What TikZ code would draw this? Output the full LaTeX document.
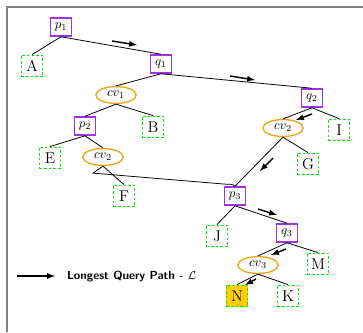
\documentclass[tikz,border=0pt]{standalone}
\usepackage{tikz}
\usetikzlibrary{shapes.geometric}

\definecolor{boxpurple}{RGB}{160,50,230}
\definecolor{leafgreen}{RGB}{0,235,0}
\definecolor{cvorange}{RGB}{245,160,20}
\definecolor{hitgold}{RGB}{255,205,0}

\tikzset{
    pnode/.style={draw=boxpurple, line width=1pt, inner sep=3.5pt, minimum height=14pt},
    leaf/.style={draw=leafgreen, line width=1pt, dash pattern=on 2pt off 1.6pt,
        minimum size=16.5pt, inner sep=1pt, font=\large},
    cvnode/.style={draw=cvorange, ellipse, line width=1pt, minimum width=31pt,
        minimum height=13pt, inner sep=1pt},
    qpath/.style={-latex, line width=1.1pt},
    edge/.style={line width=0.6pt}
}

\begin{document}
\begin{tikzpicture}[x=0.027cm, y=-0.027cm]
                \useasboundingbox (0,0) rectangle (363,332);
                \draw[gray, line width=1.2pt] (7,332) -- (7,7) -- (363,7);

                % query nodes
                \node[pnode] (p1) at (61,27) {$p_1$};
                \node[pnode] (q1) at (161,64) {$q_1$};
                \node[pnode] (p2) at (85,126) {$p_2$};
                \node[pnode] (q2) at (312,98) {$q_2$};
                \node[pnode] (p3) at (235,196) {$p_3$};
                \node[pnode] (q3) at (287,233) {$q_3$};

                \node[cvnode] (cv1) at (116,95) {$cv_1$};
                \node[cvnode] (cv2l) at (103,157) {$cv_2$};
                \node[cvnode] (cv2r) at (283,128) {$cv_2$};
                \node[cvnode] (cv3) at (258,265) {$cv_3$};

                % leaves
                \node[leaf] (A) at (32,66) {A};
                \node[leaf] (B) at (153,127) {B};
                \node[leaf] (E) at (50,158) {E};
                \node[leaf] (F) at (124,196) {F};
                \node[leaf] (I) at (339,130) {I};
                \node[leaf] (G) at (308,164) {G};
                \node[leaf] (J) at (217,236) {J};
                \node[leaf] (M) at (318,264) {M};
                \node[leaf, fill=hitgold] (N) at (237,296) {N};
                \node[leaf] (K) at (288,296) {K};

                \draw[edge] (p1.south) -- (A.north);
                \draw[edge] (p1.south) -- (q1.north);
                \draw[edge] (q1.south) -- (cv1.north);
                \draw[edge] (q1.south) -- (q2.north);
                \draw[edge] (cv1.south) -- (p2.north);
                \draw[edge] (cv1.south) -- (B.north);
                \draw[edge] (p2.south) -- (E.north);
                \draw[edge] (p2.south) -- (cv2l.north);
                \draw[edge] (cv2l.south) -- (F.north);
                \draw[edge] (cv2l.south) -- ++(-10,7) -- ++(132,11)
                    to[out=-5,in=135] (p3.north);
                \draw[edge] (q2.south) -- (cv2r.north);
                \draw[edge] (q2.south) -- (I.north);
                \draw[edge] (cv2r.south) -- (G.north);
                \draw[edge] (cv2r.south) -- (p3.north);
                \draw[edge] (p3.south) -- (J.north);
                \draw[edge] (p3.south) -- (q3.north);
                \draw[edge] (q3.south) -- (cv3.north);
                \draw[edge] (q3.south) -- (M.north);
                \draw[edge] (cv3.south) -- (N.north);
                \draw[edge] (cv3.south) -- (K.north);

                % longest query path
                \draw[qpath] (112,41) -- (137,45);
                \draw[qpath] (230,76) -- (255,80);
                \draw[qpath] (312,114) -- (296,120);
                \draw[qpath] (273,158) -- (260,171);
                \draw[qpath] (258,209) -- (277,215);
                \draw[qpath] (286,249) -- (271,255);
                \draw[qpath] (256,279) -- (245,285);

                \draw[qpath] (17,276) -- (55,276) coordinate (legend);
                \node[anchor=west, font=\small\sffamily\bfseries] (legtext) at ([xshift=2mm]legend)
                    {Longest Query Path - $\mathcal{L}$};
\end{tikzpicture}
\end{document}
